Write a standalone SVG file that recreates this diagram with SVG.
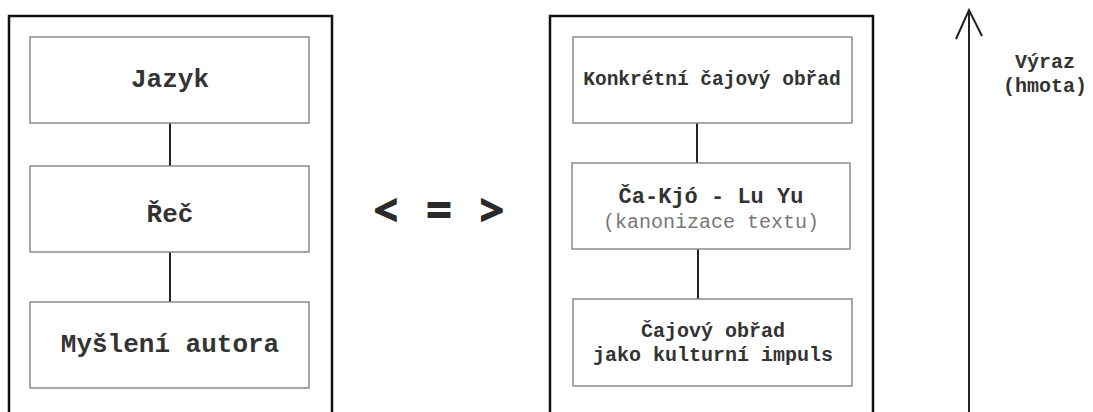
<svg xmlns="http://www.w3.org/2000/svg" width="1093" height="412" viewBox="0 0 1093 412">
<style>
.frame{fill:none;stroke:#111;stroke-width:2.5}
.box{fill:#fff;stroke:#8a8a8a;stroke-width:1.5}
.t{font-family:"Liberation Mono","Courier New",monospace;font-weight:bold;fill:#333;text-anchor:middle}
.sub{font-family:"Liberation Mono","Courier New",monospace;font-weight:normal;fill:#777;text-anchor:middle}
.sym{font-family:"Open Sans","Noto Sans",sans-serif;font-weight:800;fill:#2a2a2a;text-anchor:middle}
.conn{stroke:#222;stroke-width:2;fill:none}
</style>
<rect width="1093" height="412" fill="#fff"/>
<g id="frame-left"><path class="frame" d="M9,412 V16 H332 V412"/></g>
<g id="frame-right"><path class="frame" d="M550,412 V16 H873 V412"/></g>
<g id="connectors">
<line class="conn" x1="170" y1="123" x2="170" y2="166"/>
<line class="conn" x1="170" y1="252" x2="170" y2="302"/>
<line class="conn" x1="697" y1="123" x2="697" y2="163"/>
<line class="conn" x1="698" y1="249" x2="698" y2="299"/>
<path class="conn" d="M969,412 V10 M956,39 L969,10 L982,36"/>
</g>
<g id="jazyk"><rect class="box" x="30" y="37" width="279" height="86"/><text class="t" x="170" y="87" font-size="26">Jazyk</text></g>
<g id="rec"><rect class="box" x="30" y="166" width="279" height="86"/><text class="t" x="170" y="222" font-size="26">Řeč</text></g>
<g id="mysleni"><rect class="box" x="30" y="302" width="279" height="86"/><text class="t" x="170" y="352" font-size="26">Myšlení autora</text></g>
<g id="konkretni"><rect class="box" x="573" y="37" width="279" height="86"/><text class="t" x="712" y="85" font-size="19.5">Konkrétní čajový obřad</text></g>
<g id="cakjo"><rect class="box" x="572" y="163" width="278" height="86"/><text class="t" x="711" y="203" font-size="22">Ča-Kjó - Lu Yu</text><text class="sub" x="711" y="228" font-size="20">(kanonizace textu)</text></g>
<g id="cajovy"><rect class="box" x="573" y="299" width="279" height="87"/><text class="t" x="713" y="337" font-size="20">Čajový obřad</text><text class="t" x="713" y="361" font-size="20">jako kulturní impuls</text></g>
<g id="symbols">
<text class="sym" x="386" y="226" font-size="44">&lt;</text>
<text class="sym" x="439" y="226" font-size="46">=</text>
<text class="sym" x="492" y="226" font-size="44">&gt;</text>
</g>
<g id="vyraz"><text class="t" x="1045" y="68" font-size="20">Výraz</text><text class="t" x="1045" y="92" font-size="20">(hmota)</text></g>
</svg>
